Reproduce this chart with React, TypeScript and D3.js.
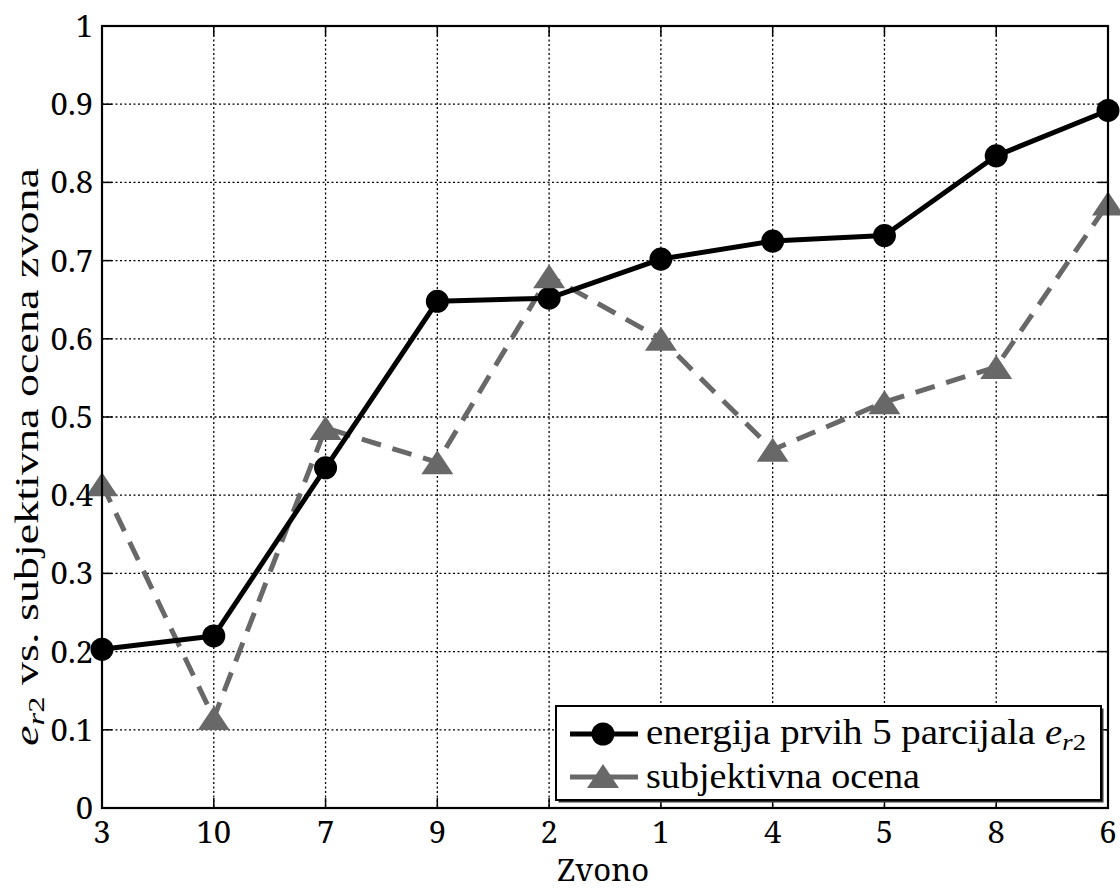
import React from "react";
import * as d3 from "d3";

const categories = ["3", "10", "7", "9", "2", "1", "4", "5", "8", "6"];
const energyValues = [0.203, 0.22, 0.435, 0.648, 0.652, 0.702, 0.725, 0.732, 0.834, 0.892];
const subjectiveValues = [0.414, 0.115, 0.486, 0.442, 0.68, 0.6, 0.458, 0.519, 0.564, 0.773];
const yTicks = [0, 0.1, 0.2, 0.3, 0.4, 0.5, 0.6, 0.7, 0.8, 0.9, 1];
const yTickLabels = ["0", "0.1", "0.2", "0.3", "0.4", "0.5", "0.6", "0.7", "0.8", "0.9", "1"];
const legendLabels = ["energija prvih 5 parcijala", "subjektivna ocena"];
const xAxisLabel = "Zvono";
const yAxisLabel = " vs. subjektivna ocena zvona";

const W = 1120;
const H = 889;
const L = 102;
const R = 1108;
const T = 26;
const B = 808;

export default function App() {
  const x = d3.scalePoint<string>().domain(categories).range([L, R]);
  const y = d3.scaleLinear().domain([0, 1]).range([B, T]);

  const lineGen = d3
    .line<number>()
    .x((_, i) => x(categories[i]) as number)
    .y((d) => y(d));

  const tri = (cx: number, cy: number, w: number, h: number) =>
    `M${cx},${cy - h / 2}L${cx + w / 2},${cy + h / 2}L${cx - w / 2},${cy + h / 2}Z`;

  const tickFont = { fontFamily: "'Noto Serif'" };
  const cmFont = { fontFamily: "'Liberation Serif'" };
  const gray = "#686868";

  const legX = 556;
  const legY = 706;
  const legW = 545;
  const legH = 94;

  return (
    <svg
      width={W}
      height={H}
      style={{ position: "absolute", left: 0, top: 0, background: "#fff" }}
    >
      <rect x={0} y={0} width={W} height={H} fill="#fff" />
      {/* grid */}
      {categories.map((c, i) =>
        i === 0 || i === categories.length - 1 ? null : (
          <line
            key={"gx" + c}
            x1={x(c)}
            x2={x(c)}
            y1={T}
            y2={B}
            stroke="#000"
            strokeWidth={1.3}
            strokeDasharray="2,2.5"
          />
        )
      )}
      {yTicks.map((t, i) =>
        i === 0 || i === yTicks.length - 1 ? null : (
          <line
            key={"gy" + t}
            x1={L}
            x2={R}
            y1={y(t)}
            y2={y(t)}
            stroke="#000"
            strokeWidth={1.3}
            strokeDasharray="2,2.5"
          />
        )
      )}
      {/* ticks */}
      {categories.map((c) => (
        <g key={"tx" + c}>
          <line x1={x(c)} x2={x(c)} y1={B} y2={B - 10} stroke="#000" strokeWidth={1.5} />
          <line x1={x(c)} x2={x(c)} y1={T} y2={T + 10} stroke="#000" strokeWidth={1.5} />
        </g>
      ))}
      {yTicks.map((t) => (
        <g key={"ty" + t}>
          <line x1={L} x2={L + 10} y1={y(t)} y2={y(t)} stroke="#000" strokeWidth={1.5} />
          <line x1={R} x2={R - 10} y1={y(t)} y2={y(t)} stroke="#000" strokeWidth={1.5} />
        </g>
      ))}
      {/* series: subjective (gray dashed) */}
      <path
        d={lineGen(subjectiveValues) || ""}
        fill="none"
        stroke={gray}
        strokeWidth={5}
        strokeDasharray="20,12"
      />
      {/* series: energy (black) */}
      <path d={lineGen(energyValues) || ""} fill="none" stroke="#000" strokeWidth={5} strokeLinejoin="round" />
      {energyValues.map((v, i) => (
        <circle key={"c" + i} cx={x(categories[i])} cy={y(v)} r={11.5} fill="#000" />
      ))}
      {subjectiveValues.map((v, i) => (
        <path key={"t" + i} d={tri(x(categories[i]) as number, y(v), 32, 24)} fill={gray} />
      ))}
      {/* axes box */}
      <rect x={L} y={T} width={R - L} height={B - T} fill="none" stroke="#000" strokeWidth={2.2} />
      {/* tick labels */}
      {categories.map((c) => (
        <text key={"lx" + c} x={x(c)} y={843} textAnchor="middle" fontSize={31} fill="#000" style={tickFont}>
          {c}
        </text>
      ))}
      {yTicks.map((t, i) => (
        <text key={"ly" + t} x={93} y={y(t) + 11} textAnchor="end" fontSize={31} fill="#000" style={tickFont}>
          {yTickLabels[i]}
        </text>
      ))}
      {/* x label */}
      <text x={603} y={881} textAnchor="middle" fontSize={31} fill="#000" style={tickFont}>
        {xAxisLabel}
      </text>
      {/* y label */}
      <text
        transform={`translate(38, 457) rotate(-90)`}
        textAnchor="middle"
        fontSize={34}
        fill="#000"
        style={cmFont}
        textLength={578}
        lengthAdjust="spacingAndGlyphs"
      >
        <tspan fontStyle="italic">e</tspan>
        <tspan fontStyle="italic" fontSize={24} dy={6}>r</tspan>
        <tspan fontSize={24}>2</tspan>
        <tspan dy={-6}>{yAxisLabel}</tspan>
      </text>
      {/* legend */}
      <rect x={legX + 2.5} y={legY + 2.5} width={legW} height={legH} fill="#333" />
      <rect x={legX} y={legY} width={legW} height={legH} fill="#fff" stroke="#000" strokeWidth={2} />
      <line x1={legX + 14} x2={legX + 82} y1={legY + 28} y2={legY + 28} stroke="#000" strokeWidth={5} />
      <circle cx={legX + 47} cy={legY + 28} r={11.5} fill="#000" />
      <line x1={legX + 14} x2={legX + 82} y1={legY + 71} y2={legY + 71} stroke={gray} strokeWidth={5} />
      <path d={tri(legX + 47, legY + 70, 32, 24)} fill={gray} />
      <text
        x={legX + 90}
        y={legY + 38}
        fontSize={35}
        fill="#000"
        style={cmFont}
        textLength={440}
        lengthAdjust="spacingAndGlyphs"
      >
        {legendLabels[0] + " "}
        <tspan fontStyle="italic">e</tspan>
        <tspan fontStyle="italic" fontSize={24} dy={6}>r</tspan>
        <tspan fontSize={24}>2</tspan>
      </text>
      <text
        x={legX + 90}
        y={legY + 82}
        fontSize={35}
        fill="#000"
        style={cmFont}
        textLength={274}
        lengthAdjust="spacingAndGlyphs"
      >
        {legendLabels[1]}
      </text>
    </svg>
  );
}
